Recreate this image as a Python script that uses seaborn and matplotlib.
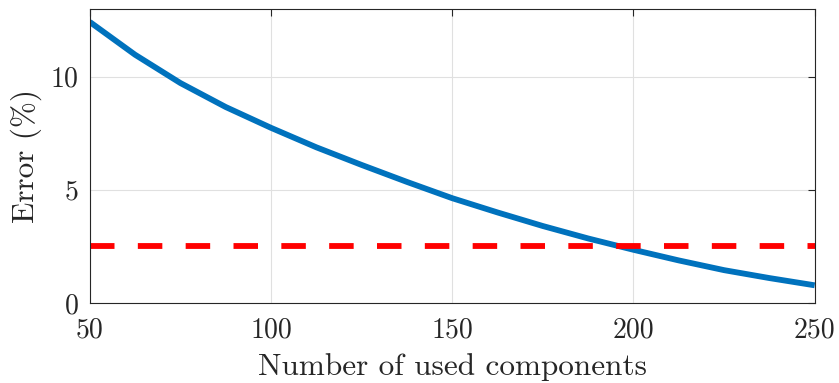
import matplotlib
matplotlib.use("Agg")
import matplotlib.pyplot as plt
import seaborn as sns
import pandas as pd

components = [50, 62.5, 75, 87.5, 100, 112.5, 125, 137.5, 150, 162.5, 175,
              187.5, 200, 212.5, 225, 237.5, 250]
error_pct = [12.42, 10.97, 9.72, 8.66, 7.74, 6.88, 6.10, 5.35, 4.63, 4.00, 3.40,
             2.85, 2.35, 1.88, 1.45, 1.10, 0.78]
threshold = 2.5
x_ticks = [50, 100, 150, 200, 250]
y_ticks = [0, 5, 10]

sns.set_theme(style="white")
plt.rcParams['font.family'] = ['cmr10', 'DejaVu Serif']
plt.rcParams['mathtext.fontset'] = 'cm'
plt.rcParams['axes.formatter.use_mathtext'] = True

df = pd.DataFrame({"components": components, "error": error_pct})
thr = pd.DataFrame({"components": [components[0], components[-1]],
                    "error": [threshold, threshold]})

fig = plt.figure(figsize=(8.39, 3.83), dpi=100)
ax = fig.add_axes([0.107, 0.209, 0.864, 0.768])

ax.grid(True, color="#e0e0e0", linewidth=0.8)
ax.set_axisbelow(True)

sns.lineplot(data=df, x="components", y="error", ax=ax, color="#0072BD",
             linewidth=4.2, solid_capstyle="butt")
sns.lineplot(data=thr, x="components", y="error", ax=ax, color="#FF0000",
             linewidth=4.2, dashes=False)
ax.lines[-1].set_dashes([4.2, 4.0])
ax.lines[-1].set_dash_capstyle("butt")

ax.set_xlim(50, 250)
ax.set_ylim(0, 13)
ax.set_xticks(x_ticks)
ax.set_yticks(y_ticks)
ax.set_xticklabels([str(v) for v in x_ticks])
ax.set_yticklabels([str(v) for v in y_ticks])
ax.set_xlabel("Number of used components", fontsize=22.5, color="#262626", labelpad=7)
ax.set_ylabel("Error (%)", fontsize=22.5, color="#262626", labelpad=6)
ax.tick_params(axis="both", which="both", direction="in", length=5, width=0.8,
               top=True, right=True, labelsize=20, colors="#262626", pad=8)
ax.tick_params(axis="x", pad=10)
for s in ax.spines.values():
    s.set_color("#262626")
    s.set_linewidth(0.8)

fig.savefig("out.png", dpi=100)
